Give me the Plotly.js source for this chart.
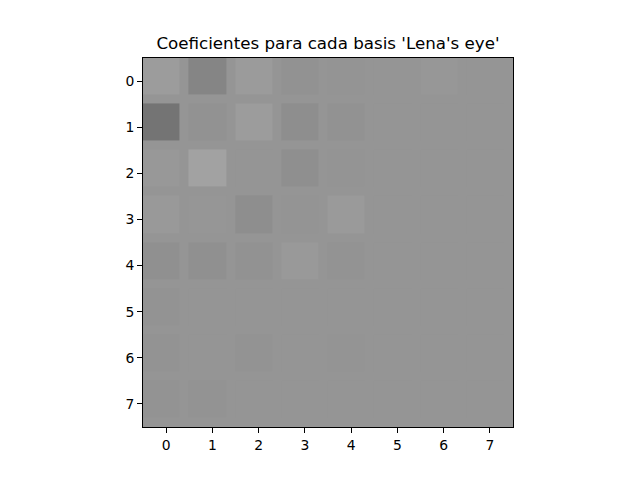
<!DOCTYPE html>
<html>
<head>
<meta charset="utf-8">
<script src="https://cdn.plot.ly/plotly-3.0.1.min.js"></script>
<style>html,body{margin:0;padding:0;background:#fff;}#plot{width:640px;height:480px;}</style>
</head>
<body>
<div id="plot"></div>
<script>
// Gray levels (0-255) of each 8x8 basis coefficient, rows top to bottom
const row0 = [156, 133, 155, 146, 148, 149, 151, 149];
const row1 = [116, 146, 156, 142, 146, 149, 149, 149];
const row2 = [152, 162, 149, 143, 148, 149, 149, 149];
const row3 = [153, 150, 142, 148, 154, 149, 149, 149];
const row4 = [144, 144, 146, 153, 147, 149, 149, 149];
const row5 = [147, 149, 149, 149, 149, 149, 149, 149];
const row6 = [147, 149, 147, 149, 148, 149, 149, 149];
const row7 = [147, 147, 149, 149, 149, 149, 149, 149];
const tickLabels = ['0', '1', '2', '3', '4', '5', '6', '7'];

const z = [row0, row1, row2, row3, row4, row5, row6, row7];

const trace = {
  type: 'heatmap',
  z: z,
  x0: -0.1, dx: 1,
  y0: -0.1, dy: 1,
  zmin: 0, zmax: 255,
  colorscale: [[0, '#000000'], [1, '#ffffff']],
  showscale: false,
  xgap: 9, ygap: 9,
  hoverinfo: 'z'
};

const axisCommon = {
  tickvals: [0, 1, 2, 3, 4, 5, 6, 7],
  ticktext: tickLabels,
  ticks: 'outside', ticklen: 5, tickwidth: 1, tickcolor: '#000',
  showline: true, linecolor: '#000', linewidth: 1, mirror: true,
  showgrid: false, zeroline: false,
  tickfont: {family: 'DejaVu Sans', size: 13.9, color: '#000'}
};

const layout = {
  width: 640, height: 480,
  margin: {l: 143, r: 127, t: 58, b: 53, pad: 0},
  paper_bgcolor: '#ffffff',
  plot_bgcolor: '#959595',
  title: {
    text: "Coeficientes para cada basis 'Lena's eye'",
    font: {family: 'DejaVu Sans', size: 16.7, color: '#000'},
    x: 328 / 640, xanchor: 'center', xref: 'container',
    y: 1 - 43 / 480, yanchor: 'middle', yref: 'container'
  },
  xaxis: Object.assign({}, axisCommon, {range: [-0.5, 7.5]}),
  yaxis: Object.assign({}, axisCommon, {range: [7.5, -0.5]}),
  showlegend: false
};

Plotly.newPlot('plot', [trace], layout, {displayModeBar: false, staticPlot: true});
</script>
</body>
</html>
